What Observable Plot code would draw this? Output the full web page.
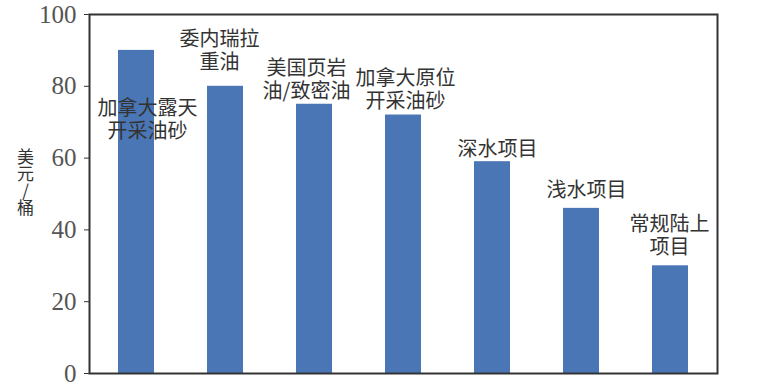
<!DOCTYPE html>
<html>
<head>
<meta charset="utf-8">
<script src="https://cdn.jsdelivr.net/npm/d3@7"></script>
<script src="https://cdn.jsdelivr.net/npm/@observablehq/plot@0.6"></script>
<style>
  html, body { margin: 0; padding: 0; background: #fff; }
  #chart { width: 775px; height: 388px; }
</style>
</head>
<body>
<div id="chart"></div>
<script>
const categories = [
  "加拿大露天\n开采油砂",
  "委内瑞拉\n重油",
  "美国页岩\n油/致密油",
  "加拿大原位\n开采油砂",
  "深水项目",
  "浅水项目",
  "常规陆上\n项目"
];
const values = [90, 80, 75, 72, 59, 46, 30];
const yTicks = [0, 20, 40, 60, 80, 100];
const yLabel = "美元/桶";

const data = categories.map((c, i) => ({category: c, value: values[i]}));

const cjk = "'Noto Sans CJK SC', 'Noto Sans', sans-serif";

// one text label per bar, nudged like the reference
function label(i, dx, dy, anchor = "bottom") {
  return Plot.text([data[i]], {
    x: "category", y: "value", text: "category",
    lineAnchor: anchor, dx, dy,
    fontSize: 20, lineHeight: 1.15, fill: "#333",
    fontFamily: cjk
  });
}

const chart = Plot.plot({
  width: 775,
  height: 388,
  marginLeft: 89,
  marginRight: 58,
  marginTop: 14,
  marginBottom: 15,
  style: {background: "#fff", overflow: "visible"},
  x: {domain: categories, paddingInner: 0.6, paddingOuter: 0.3, axis: null},
  y: {domain: [0, 100], axis: null},
  marks: [
    Plot.barY(data, {x: "category", y: "value", fill: "#4a76b5"}),
    Plot.frame({stroke: "#333", strokeWidth: 2}),
    Plot.axisY({
      ticks: yTicks,
      tickSize: 5,
      tickPadding: 8,
      stroke: "#333",
      fontSize: 25,
      fontFamily: "'Liberation Serif', 'DejaVu Serif', serif",
      fill: "#555",
      label: null
    }),
    label(0, 11, 48, "top"),
    label(1, -6, -17),
    label(2, -8, -6),
    label(3, 2, -7),
    label(4, 5, -6),
    label(5, 5, -11),
    label(6, -1, -12),
    Plot.text([yLabel], {
      frameAnchor: "left", dx: -64, dy: -17,
      fontSize: 17, fill: "#333",
      fontFamily: cjk
    })
  ]
});

d3.select(chart).selectAll("text")
  .filter(function () { return this.textContent === yLabel; })
  .attr("dy", null)
  .attr("text-anchor", "middle")
  .style("writing-mode", "vertical-rl")
  .style("text-orientation", "upright");

document.getElementById("chart").appendChild(chart);
</script>
</body>
</html>
